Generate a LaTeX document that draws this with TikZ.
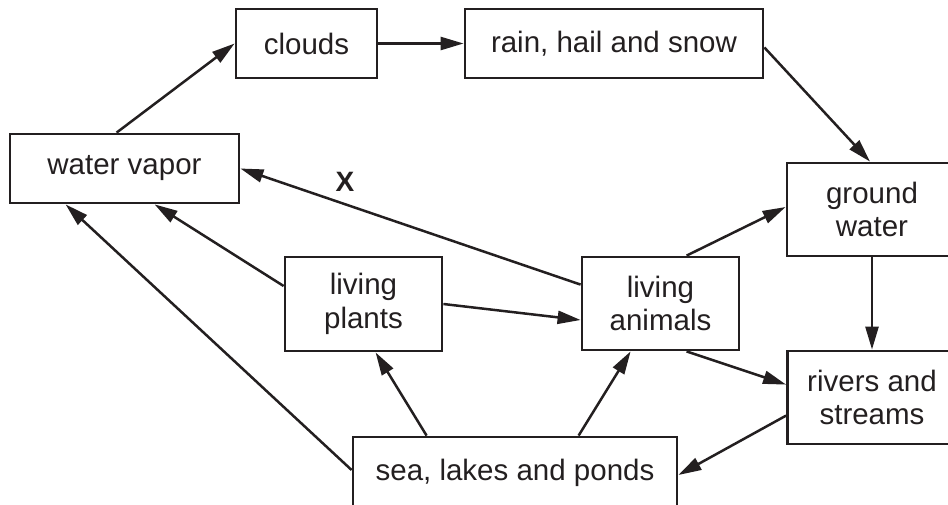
\documentclass[tikz,border=0pt]{standalone}
\usepackage{fontspec}
\setmainfont{Liberation Sans}
\usetikzlibrary{arrows.meta,calc}
\definecolor{ink}{HTML}{231F20}
\begin{document}
\begin{tikzpicture}[x=1pt,y=-1pt,
  box/.style={draw=ink, line width=2.8pt, rectangle, inner sep=0pt, align=center,
    text=ink, font=\fontsize{29.5}{33.5}\selectfont},
  flow/.style={draw=ink, line width=2.5pt, -{Triangle[length=23pt,width=13pt]}}]
\useasboundingbox (0,0) rectangle (948,504);
\clip (0,0) rectangle (948,504);
\node[box, minimum width=141pt, minimum height=69pt] (clouds) at (306.5,43.5) {clouds};
\node[box, minimum width=298pt, minimum height=69pt] (rain) at (614,43.5) {rain, hail and snow};
\node[box, minimum width=229pt, minimum height=69pt] (vapor) at (124.5,168.5) {water vapor};
\node[box, minimum width=170pt, minimum height=93pt] (ground) at (872,209.5) {ground\\water};
\node[box, minimum width=157pt, minimum height=94pt] (plants) at (363.5,304) {living\\plants};
\node[box, minimum width=157pt, minimum height=93pt] (animals) at (660.5,303.5) {living\\animals};
\node[box, minimum width=169pt, minimum height=93pt] (rivers) at (872,397.5) {rivers and\\streams};
\node[box, minimum width=324pt, minimum height=72pt] (sea) at (515,473) {sea, lakes and ponds};
\node[text=ink, font=\fontsize{28}{32}\selectfont\bfseries] (xlabel) at (345,182) {X};

\draw[flow] ($(vapor.north west)+(108,0)$) -- (clouds.west);
\draw[flow] (clouds.east) -- (rain.west);
\draw[flow] ($(rain.east)+(0,4)$) -- ($(ground.north)+(-2,0)$);
\draw[flow] (ground.south) -- (rivers.north);
\draw[flow] ($(animals.north west)+(106,0)$) -- ($(ground.west)+(0,-2.5)$);
\draw[flow] ($(animals.north west)+(0,29)$) -- (vapor.east);
\draw[flow] (plants.east) -- ($(animals.west)+(0,16.5)$);
\draw[flow] ($(plants.west)+(0,-18)$) -- ($(vapor.south west)+(146,0)$);
\draw[flow] ($(sea.west)+(0,-3)$) -- ($(vapor.south west)+(57,0)$);
\draw[flow] ($(sea.north west)+(75,0)$) -- ($(plants.south west)+(92,0)$);
\draw[flow] ($(sea.north west)+(227,0)$) -- ($(animals.south west)+(50,0)$);
\draw[flow] ($(animals.south west)+(106,0)$) -- ($(rivers.north west)+(0,35)$);
\draw[flow] ($(rivers.north west)+(0,66)$) -- ($(sea.east)+(0,2)$);
\end{tikzpicture}
\end{document}
